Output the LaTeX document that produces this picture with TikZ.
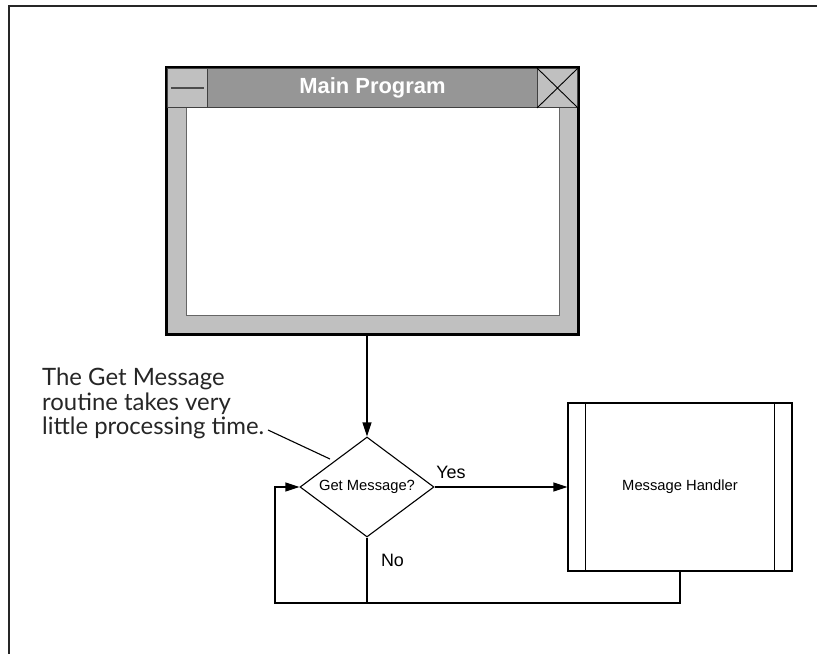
\documentclass[tikz,border=0pt]{standalone}
\usepackage{fontspec}
\setmainfont{Liberation Sans}
\newfontfamily\notefont{Lato}
\usepackage{tikz}
\usetikzlibrary{arrows.meta,positioning,calc,shapes.geometric}
\definecolor{winlight}{RGB}{192,192,192}
\definecolor{windark}{RGB}{150,150,150}
\tikzset{
  winframe/.style={draw=black,fill=winlight,line width=3bp,minimum width=412bp,
    minimum height=267bp,inner sep=0pt},
  winbutton/.style={draw=black!75,fill=winlight,line width=1bp,minimum width=40bp,
    minimum height=39bp,inner sep=0pt},
  titlebar/.style={draw=black!75,fill=windark,line width=1bp,minimum width=331bp,
    minimum height=39bp,inner sep=0pt,text=white,font=\bfseries\fontsize{22}{26}\selectfont},
  decision/.style={diamond,draw,line width=1.1bp,aspect=1.34,minimum width=134bp,
    minimum height=100bp,inner sep=0pt,font=\fontsize{14.8}{17}\selectfont},
  handlerbox/.style={draw,line width=1.1bp,minimum width=224bp,minimum height=168bp,
    font=\fontsize{14.8}{17}\selectfont},
  flowline/.style={line width=1.1bp},
  flowarrow/.style={flowline,-{Triangle[length=14bp,width=9bp]}},
  branchlabel/.style={font=\fontsize{18}{20}\selectfont,inner sep=0pt},
  notetext/.style={align=left,font=\notefont\fontsize{24}{24.5}\selectfont,inner sep=0pt,
    text=black!85}
}

\begin{document}
\begin{tikzpicture}[x=1bp,y=-1bp]
  \useasboundingbox (0,0) rectangle (817,654);
  % screen border
  \draw[line width=2.2bp,black!85] (9,654) -- (9,6) -- (817,6);

  % main program window
  \node[winframe] (mainwin) at (372.5,201) {};
  \fill[white,draw=black!60,line width=0.8bp] (186,107) rectangle (559,315);
  \node[winbutton] (minbtn) at (187.5,88) {};
  \draw[black!70,line width=1.2bp] ([xshift=4bp]minbtn.west) -- ([xshift=-4bp]minbtn.east);
  \node[titlebar] (wintitle) at (372.5,88) {Main Program};
  \node[winbutton] (closebtn) at (557.5,88) {};
  \draw[black,line width=0.9bp] (closebtn.north west) -- (closebtn.south east)
    (closebtn.north east) -- (closebtn.south west);

  % flow chart
  \node[decision] (getmsg) at (367,487) {Get Message?};
  \node[handlerbox] (handler) at (680,487) {Message Handler};
  \draw[flowline] ([xshift=18bp]handler.north west) -- ([xshift=18bp]handler.south west);
  \draw[flowline] ([xshift=-18bp]handler.north east) -- ([xshift=-18bp]handler.south east);
  \coordinate (loopbl) at (275,603);

  \draw[flowarrow] (mainwin.south -| getmsg.north) -- (getmsg.north);
  \draw[flowarrow] (getmsg.east) -- (handler.west);
  \draw[flowarrow] (handler.south) |- (loopbl) |- (getmsg.west);
  \draw[flowline] (getmsg.south) -- (getmsg.south |- loopbl);
  \node[branchlabel] (yeslbl) at (451,472) {Yes};
  \node[branchlabel] (nolbl) at (392.5,560) {No};

  % annotation
  \node[notetext,anchor=north west] (note) at (42,368)
    {The Get Message\\routine takes very\\little processing time.};
  \coordinate (notetail) at (268,430);
  \coordinate (notetip) at (330,459);
  \draw[flowline] (notetail) -- (notetip);
\end{tikzpicture}
\end{document}
